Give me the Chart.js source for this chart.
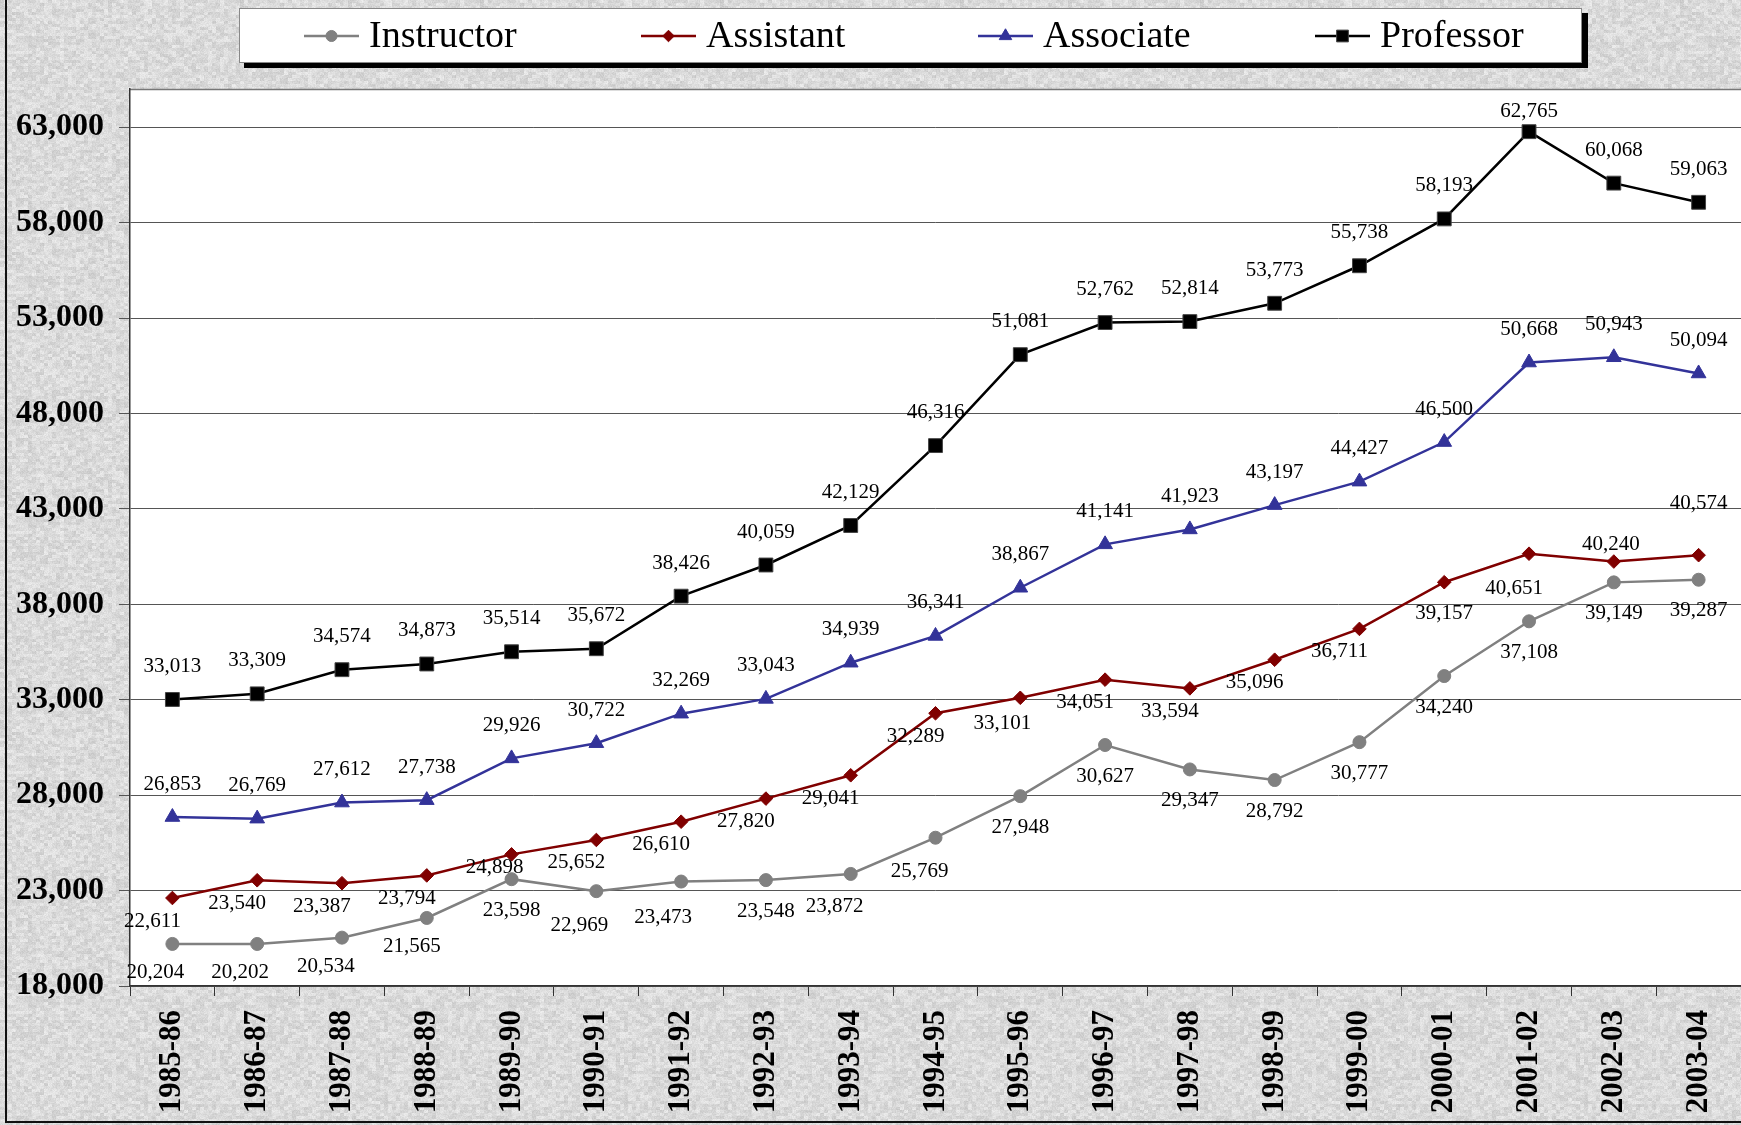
<!DOCTYPE html>
<html>
<head>
<meta charset="utf-8">
<script src="https://cdn.jsdelivr.net/npm/chart.js@4.4.1/dist/chart.umd.min.js"></script>
<style>
  html, body { margin: 0; padding: 0; overflow: hidden; background: #dadada; }
  #wrap { width: 1741px; height: 1125px; position: relative; }
</style>
</head>
<body>
<div id="wrap"><canvas id="result"></canvas></div>
<script>
const years = ['1985-86', '1986-87', '1987-88', '1988-89', '1989-90', '1990-91', '1991-92',
  '1992-93', '1993-94', '1994-95', '1995-96', '1996-97', '1997-98', '1998-99', '1999-00',
  '2000-01', '2001-02', '2002-03', '2003-04']
const instructor = [20204, 20202, 20534, 21565, 23598, 22969, 23473, 23548, 23872, 25769,
  27948, 30627, 29347, 28792, 30777, 34240, 37108, 39149, 39287]
const assistant = [22611, 23540, 23387, 23794, 24898, 25652, 26610, 27820, 29041, 32289,
  33101, 34051, 33594, 35096, 36711, 39157, 40651, 40240, 40574]
const associate = [26853, 26769, 27612, 27738, 29926, 30722, 32269, 33043, 34939, 36341,
  38867, 41141, 41923, 43197, 44427, 46500, 50668, 50943, 50094]
const professor = [33013, 33309, 34574, 34873, 35514, 35672, 38426, 40059, 42129, 46316,
  51081, 52762, 52814, 53773, 55738, 58193, 62765, 60068, 59063]
const yTicks = [18000, 23000, 28000, 33000, 38000, 43000, 48000, 53000, 58000, 63000]
const yMin = 18000
const yMax = 65000

// where each value label sits relative to its point (default, plus a few hand-moved ones)
const labelPos = {
  Instructor: { dx: 0, dy: 31, at: { 0: [-17, 29], 1: [-17, 29], 2: [-16, 29], 3: [-15, 29], 5: [-17, 34], 6: [-18, 36], 8: [-16, 33], 9: [-16, 34] } },
  Assistant: { dx: -20, dy: 23, at: { 4: [-17, 13], 10: [-18, 26], 15: [0, 31], 16: [-15, 35], 17: [-3, -17], 18: [0, -52] } },
  Associate: { dx: 0, dy: -33, at: {} },
  Professor: { dx: 0, dy: -33, at: { 16: [0, -20] } }
}

const fmt = (v) => v.toLocaleString('en-US')
const serif = '"Liberation Serif", "Times New Roman", serif'

// grey granite-ish backdrop, made from a fixed hash so it is the same every run
function makeTexture() {
  const c = document.createElement('canvas')
  c.width = 240
  c.height = 240
  const g = c.getContext('2d')
  const img = g.createImageData(240, 240)
  const h = (a, b) => {
    const s = Math.sin(a * 12.9898 + b * 78.233) * 43758.5453
    return s - Math.floor(s)
  }
  for (let y = 0; y < 240; y++) {
    for (let x = 0; x < 240; x++) {
      const v = 218 + 26 * (h(Math.floor(x / 4), Math.floor(y / 3)) - 0.5) + 16 * (h(x, y) - 0.5)
      const i = (y * 240 + x) * 4
      img.data[i] = img.data[i + 1] = img.data[i + 2] = v
      img.data[i + 3] = 255
    }
  }
  g.putImageData(img, 0, 0)
  return c
}
const texture = makeTexture()

const backdrop = {
  id: 'backdrop',
  beforeDraw(chart) {
    const { ctx, chartArea: a } = chart
    ctx.save()
    ctx.fillStyle = ctx.createPattern(texture, 'repeat')
    ctx.fillRect(0, 0, chart.width, chart.height)
    ctx.fillStyle = '#ffffff'
    ctx.fillRect(a.left, a.top, a.right - a.left, a.bottom - a.top)
    ctx.strokeStyle = '#777'
    ctx.lineWidth = 1.5
    ctx.beginPath()
    ctx.moveTo(a.left, a.top + 0.5)
    ctx.lineTo(a.right, a.top + 0.5)
    ctx.stroke()
    ctx.restore()
  },
  afterDraw(chart) {
    const ctx = chart.ctx
    ctx.save()
    ctx.strokeStyle = '#111'
    ctx.lineWidth = 2
    ctx.beginPath()
    ctx.moveTo(6, 0)
    ctx.lineTo(6, 1122)
    ctx.lineTo(chart.width, 1122)
    ctx.stroke()
    ctx.restore()
  }
}

const valueLabels = {
  id: 'valueLabels',
  afterDatasetsDraw(chart) {
    const ctx = chart.ctx
    ctx.save()
    ctx.font = '21px ' + serif
    ctx.fillStyle = '#000'
    ctx.textAlign = 'center'
    ctx.textBaseline = 'middle'
    chart.data.datasets.forEach((ds, di) => {
      const pos = labelPos[ds.label]
      chart.getDatasetMeta(di).data.forEach((pt, i) => {
        const [dx, dy] = pos.at[i] || [pos.dx, pos.dy]
        ctx.fillText(fmt(ds.data[i]), pt.x + dx, pt.y + dy)
      })
    })
    ctx.restore()
  }
}

const boxLegend = {
  id: 'boxLegend',
  afterDraw(chart) {
    const ctx = chart.ctx
    ctx.save()
    ctx.fillStyle = '#000'
    ctx.fillRect(244, 13, 1344, 55)
    ctx.fillStyle = '#fff'
    ctx.fillRect(239, 8, 1343, 55)
    ctx.strokeStyle = '#888'
    ctx.lineWidth = 1
    ctx.strokeRect(239.5, 8.5, 1342, 54)
    const cy = 36
    chart.data.datasets.forEach((ds, i) => {
      const x = 304 + i * 337
      ctx.strokeStyle = ds.borderColor
      ctx.lineWidth = 2.5
      ctx.beginPath()
      ctx.moveTo(x, cy)
      ctx.lineTo(x + 55, cy)
      ctx.stroke()
      ctx.fillStyle = ds.pointBackgroundColor
      ctx.strokeStyle = ds.pointBorderColor
      ctx.lineWidth = 1
      Chart.helpers.drawPoint(ctx, { pointStyle: ds.pointStyle, radius: ds.pointRadius * 0.85, rotation: 0, borderWidth: 1 }, x + 27.5, cy)
      ctx.fillStyle = '#000'
      ctx.font = '38px ' + serif
      ctx.textAlign = 'left'
      ctx.textBaseline = 'middle'
      ctx.fillText(ds.label, x + 65, cy + 1)
    })
    ctx.restore()
  }
}

function series(label, data, color, style, radius, edge) {
  return {
    label,
    data,
    borderColor: color,
    backgroundColor: color,
    pointBackgroundColor: color,
    pointBorderColor: edge || color,
    pointStyle: style,
    pointRadius: radius,
    pointBorderWidth: 1,
    borderWidth: 2.5,
    tension: 0
  }
}

const ctx = document.getElementById('result').getContext('2d')
const chart = new Chart(ctx, {
  type: 'line',
  data: {
    labels: years,
    datasets: [
      series('Instructor', instructor, '#808080', 'circle', 6.5),
      series('Assistant', assistant, '#800000', 'rectRot', 6.8),
      series('Associate', associate, '#333399', 'triangle', 8.5),
      series('Professor', professor, '#000000', 'rect', 9.8, '#444')
    ]
  },
  options: {
    responsive: true,
    maintainAspectRatio: false,
    animation: false,
    layout: { autoPadding: false, padding: { top: 89, left: 0, right: 0, bottom: 0 } },
    plugins: {
      legend: { display: false },
      tooltip: { enabled: false }
    },
    scales: {
      x: {
        offset: true,
        afterFit: (s) => {
          s.height = 139
          s.paddingLeft = 0
          s.paddingRight = 0
        },
        grid: { drawOnChartArea: false, drawTicks: true, tickLength: 10, color: '#333', offset: true },
        border: { color: '#333', width: 1.5 },
        ticks: {
          minRotation: 90,
          maxRotation: 90,
          padding: 14,
          color: '#000',
          font: { family: serif, size: 31, weight: 'bold' }
        }
      },
      y: {
        min: yMin,
        max: yMax,
        afterFit: (s) => {
          s.width = 130
          s.paddingTop = 0
          s.paddingBottom = 0
        },
        afterBuildTicks: (s) => { s.ticks = yTicks.map((v) => ({ value: v })) },
        grid: { color: '#555', lineWidth: 1, tickLength: 11 },
        border: { color: '#333', width: 1.5 },
        ticks: {
          padding: 15,
          color: '#000',
          font: { family: serif, size: 32, weight: 'bold' },
          callback: (v) => fmt(v)
        }
      }
    }
  },
  plugins: [backdrop, valueLabels, boxLegend]
})
</script>
</body>
</html>
